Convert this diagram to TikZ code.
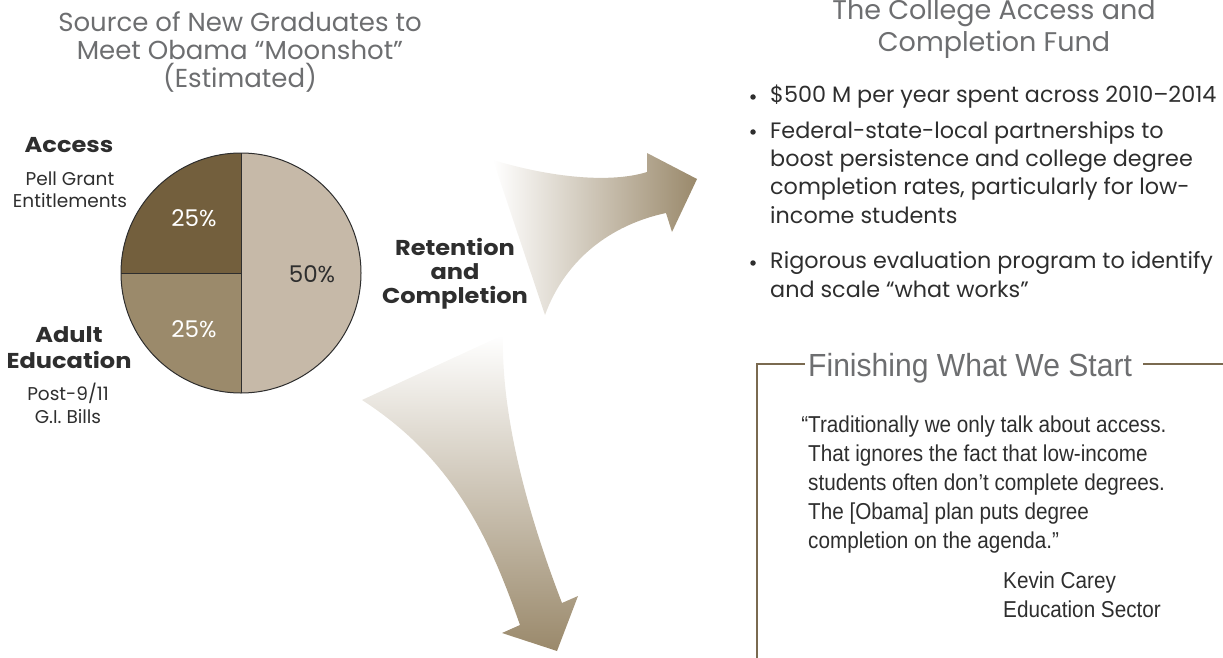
\documentclass[tikz,border=0pt]{standalone}
\usepackage{fontspec}
\setmainfont{Poppins}
\newfontfamily\wideb[FakeStretch=1.12]{Poppins}
\newfontfamily\cond[FakeStretch=0.9]{Liberation Sans}
\newfontfamily\condt[FakeStretch=0.94]{Liberation Sans}
\definecolor{pdark}{HTML}{735F3D}
\definecolor{pmid}{HTML}{9B8A6B}
\definecolor{plight}{HTML}{C6B9A8}
\definecolor{titlegray}{HTML}{6D6E70}
\definecolor{txt}{HTML}{2E2E2E}
\definecolor{boxline}{HTML}{7A6A50}
\definecolor{arrowend}{HTML}{9A896B}
\tikzset{
  ttl/.style={text=titlegray, align=center, inner sep=0pt, anchor=base},
  hdr/.style={text=txt, align=center, inner sep=0pt, anchor=base, font=\wideb\bfseries\fontsize{21.5}{25}\selectfont},
  sub/.style={text=txt, align=center, inner sep=0pt, anchor=base, font=\fontsize{18.5}{22}\selectfont},
  pct/.style={inner sep=0pt, anchor=base, font=\fontsize{23}{26}\selectfont},
  bul/.style={text=txt, align=left, inner sep=0pt, anchor=base west, font=\fontsize{22.3}{28.3}\selectfont},
  dot/.style={circle, fill=txt, inner sep=0pt, minimum size=5.5pt},
  quo/.style={text=txt, align=left, inner sep=0pt, anchor=base west, font=\cond\fontsize{23}{28.8}\selectfont},
  boxl/.style={draw=boxline, line width=1.2pt},
  pieline/.style={draw=txt, line width=1pt},
}
\begin{document}
\begin{tikzpicture}[x=1pt,y=-1pt]
\useasboundingbox (0,0) rectangle (1223,658);
% left title
\node[ttl, font=\fontsize{26}{28}\selectfont] (lt) at (240,88) {Source of New Graduates to\\Meet Obama “Moonshot”\\(Estimated)};
% pie
\coordinate (pc) at (241,273);
\fill[plight] (pc) circle[radius=120];
\fill[pdark] (pc) -- ++(0,-120) arc[start angle=-90,end angle=-180,radius=120] -- cycle;
\fill[pmid] (pc) -- ++(-120,0) arc[start angle=180,end angle=90,radius=120] -- cycle;
\draw[pieline] (pc) circle[radius=120];
\draw[pieline] (241,153) -- (241,393);
\draw[pieline] (pc) -- ++(-120,0);
\node[pct, text=white] (p1) at (194,226) {25\%};
\node[pct, text=white] (p2) at (194,337) {25\%};
\node[pct, text=txt] (p3) at (312,282) {50\%};
% left labels
\node[hdr] (acc) at (69,153) {Access};
\node[sub] (pell) at (70,207) {Pell Grant\\Entitlements};
\node[hdr, font=\wideb\bfseries\fontsize{21.5}{26}\selectfont] (adult) at (69,368) {Adult\\Education};
\node[sub, font=\fontsize{18.5}{23}\selectfont] (gi) at (68,423) {Post-9/11\\G.I. Bills};
\node[hdr, font=\wideb\bfseries\fontsize{21.5}{24}\selectfont] (ret) at (455,303) {Retention\\and\\Completion};
% arrows
\shade[left color=white, right color=arrowend]
  (493,160) .. controls (560,180) and (615,182) .. (647,172)
  -- (647,153) -- (697,179) -- (672,232) -- (666,213)
  .. controls (610,225) and (565,260) .. (545,315) -- cycle;
\shade[top color=white, bottom color=arrowend]
  (503,335) .. controls (501,420) and (530,520) .. (562,603)
  -- (578,596) -- (557,651) -- (502,633) -- (520,625)
  .. controls (490,540) and (455,460) .. (362,400) -- cycle;
% right title
\node[ttl, font=\fontsize{27}{32}\selectfont] (rt) at (994,52) {The College Access and\\Completion Fund};
% bullets
\node[bul] (b1) at (770,103) {\$500 M per year spent across 2010–2014};
\node[bul] (b2) at (770,223) {Federal-state-local partnerships to\\boost persistence and college degree\\completion rates, particularly for low-\\income students};
\node[bul] (b3) at (770,297) {Rigorous evaluation program to identify\\and scale “what works”};
\node[dot] (d1) at (753,97) {};
\node[dot] (d2) at (753,132) {};
\node[dot] (d3) at (753,263) {};
% quote box
\node[text=titlegray, inner sep=0pt, anchor=base west, font=\condt\fontsize{32}{36}\selectfont] (ft) at (808,376) {Finishing What We Start};
\coordinate (bl) at (757,658);
\coordinate (tl) at (757,364);
\coordinate (lg) at (805,364);
\coordinate (rg) at (1143,364);
\coordinate (br) at (1223,364);
\draw[boxl] (bl) -- (tl) -- (lg);
\draw[boxl] (rg) -- (br);
\node[quo] (q) at (808,548) {\llap{“}Traditionally we only talk about access.\\That ignores the fact that low-income\\students often don’t complete degrees.\\The [Obama] plan puts degree\\completion on the agenda.”};
\node[quo, font=\cond\fontsize{23}{29}\selectfont] (kc) at (1003,617) {Kevin Carey\\Education Sector};
\end{tikzpicture}
\end{document}
